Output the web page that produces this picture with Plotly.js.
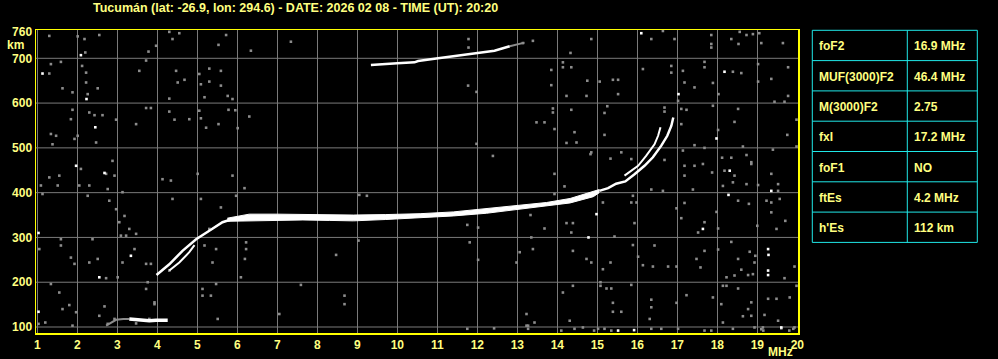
<!DOCTYPE html>
<html>
<head>
<meta charset="utf-8">
<script src="https://cdn.plot.ly/plotly-3.0.1.min.js"></script>
<style>
html,body{margin:0;padding:0;background:#000;}
#chart{width:998px;height:359px;}
</style>
</head>
<body>
<div id="chart"></div>
<script>
// ---------------- data ----------------
const titleText = "Tucumán (lat: -26.9, lon: 294.6) - DATE: 2026 02 08 - TIME (UT): 20:20";
const freqTicks = [1,2,3,4,5,6,7,8,9,10,11,12,13,14,15,16,17,18,19,20];
const heightTicks = [100,200,300,400,500,600,700,760];
const heightGrid = [100,200,300,400,500,600,700];

// F-region O trace: rising lower part
const riseFreq = [3.98, 4.30, 4.63, 4.97, 5.30, 5.63, 5.88, 6.13];
const riseH    = [216, 240, 270, 296, 315, 334, 341, 345];
// parallel X-like branch of the rising part
const rise2Freq = [4.30, 4.55, 4.80, 4.93];
const rise2H    = [226, 244, 267, 283];
// thick plateau band
const bandFreq   = [5.75, 6.30, 7.00, 7.64, 8.30, 8.90, 9.70, 10.57, 11.40, 12.23, 12.90, 13.73, 14.32, 14.90, 15.05];
const bandTop    = [343, 352, 352, 351, 351, 350, 351, 353, 357, 365, 370, 378, 387, 402, 407];
const bandBottom = [336, 337, 338, 339, 338, 337, 340, 344, 348, 354, 361, 370, 377, 391, 400];
// cusp near foF2 / fxI
const cuspFreq = [15.05, 15.27, 15.47, 15.70, 15.93, 16.18, 16.39, 16.60, 16.75, 16.85, 16.90];
const cuspH    = [404, 410, 420, 425, 441, 460, 479, 505, 527, 549, 568];
const cusp2Freq = [15.68, 16.02, 16.22, 16.43, 16.52, 16.58];
const cusp2H    = [438, 460, 482, 508, 527, 546];
// Es trace
const esFreq = [3.30, 3.47, 3.60, 3.80, 3.97, 4.12, 4.26];
const esH    = [118, 117, 115, 114, 115, 115, 115];
const esGrayFreq = [2.72, 2.85, 2.97, 3.15, 3.30];
const esGrayH    = [103, 110, 116, 118, 118];
// second-hop F trace
const hopFreq = [9.34, 9.70, 10.00, 10.43, 10.52, 11.02, 11.60, 12.02, 12.43, 12.81];
const hopH    = [685, 688, 689, 691, 694, 700, 707, 712, 717, 727];
const hopGrayFreq = [12.81, 13.00, 13.18];
const hopGrayH    = [727, 731, 735];

// scattered gray echoes (noise)
const noiseFreq = [1.30,2.01,2.18,2.55,2.20,4.38,4.30,4.55,5.53,5.72,6.34,7.34,3.78,3.97,1.34,1.59,1.30,2.12,2.22,2.22,2.26,1.88,1.63,2.51,3.55,3.72,4.47,4.51,4.68,5.30,5.59,5.05,5.09,5.30,5.59,4.30,5.18,5.76,5.88,1.88,2.30,2.43,2.63,1.84,2.97,3.47,3.72,3.84,4.43,4.30,4.80,5.05,5.09,5.78,5.95,6.30,5.22,5.53,6.01,1.34,1.38,1.47,1.93,2.01,2.47,2.88,2.09,2.72,2.93,2.05,1.51,1.09,1.13,1.30,1.55,2.30,2.76,3.13,2.26,2.80,2.97,3.18,3.30,3.05,3.22,3.09,3.47,3.43,3.13,3.72,3.84,3.76,3.93,3.72,5.13,5.47,4.30,4.34,4.13,4.38,5.01,5.09,5.59,5.30,5.88,6.18,5.97,6.22,6.22,6.19,5.38,5.47,5.18,6.09,7.59,7.05,8.68,8.68,8.47,9.05,9.24,9.03,1.05,1.59,1.59,1.84,1.93,2.38,2.51,2.30,2.72,3.01,1.34,1.55,1.80,1.63,1.97,2.68,2.76,2.55,2.93,3.47,3.80,3.93,5.13,5.34,5.51,1.03,1.20,1.88,
16.64,17.85,18.56,18.73,18.89,18.35,18.53,19.10,19.64,17.85,17.85,11.78,11.78,13.39,13.14,14.33,14.14,14.14,13.85,14.35,15.06,15.39,15.52,15.52,14.75,11.77,11.98,13.85,14.73,14.23,16.14,16.85,16.85,17.14,17.68,17.68,18.39,18.60,19.02,19.77,19.02,19.35,17.89,17.18,17.43,18.03,19.43,19.77,19.68,17.02,17.10,17.23,16.68,16.68,17.89,18.52,13.89,13.89,14.35,15.25,15.18,19.98,13.48,13.68,17.10,18.02,18.43,19.75,15.18,14.48,14.23,14.43,13.93,11.98,12.39,14.83,14.85,15.33,15.60,15.85,16.68,17.14,17.43,17.68,18.12,18.35,18.73,18.85,19.39,19.98,18.64,17.18,17.43,17.64,17.87,17.18,18.18,18.43,18.85,19.35,19.52,19.52,18.14,18.39,18.73,19.02,19.35,19.35,19.56,18.52,18.79,19.23,13.93,13.93,14.18,15.14,15.89,15.85,15.98,15.93,16.35,16.64,17.39,17.18,16.98,17.10,17.98,17.68,17.52,18.02,19.00,19.70,19.48,14.39,14.35,14.23,13.68,13.33,13.35,12.02,11.75,11.81,13.06,13.39,12.02,12.98,14.39,14.73,14.85,15.33,15.14,15.08,15.23,15.35,15.43,15.89,16.43,16.02,16.39,16.14,16.77,16.98,17.48,17.58,17.68,18.02,18.35,18.52,18.81,18.95,18.93,18.89,18.77,18.60,18.43,18.23,19.68,19.93,18.14,18.23,18.52,18.85,18.77,18.64,18.85,19.27,19.48,19.81,19.98,17.89,18.10,17.23,19.18,19.52,19.93,19.14,18.93,18.39,18.14,17.85,17.68,17.02,16.60,16.35,15.35,15.18,15.02,14.92,14.64,14.43,14.10,13.27,13.23,13.43,12.42,11.75,13.27,14.14,14.39,15.85,15.08,15.39,15.39,16.31,16.35,16.98,16.35,14.31,13.23,15.60,16.35,16.93,14.85,19.05,19.10,19.15,19.60,19.80,19.90];
const noiseH = [750,749,743,752,713,743,759,756,730,752,717,737,715,728,687,692,666,683,668,646,620,624,633,633,672,695,672,646,652,677,672,665,642,648,639,610,613,616,609,585,579,573,573,564,563,553,589,589,563,581,564,583,566,585,584,570,545,553,544,531,508,527,520,527,512,471,453,442,438,416,416,416,397,434,438,416,408,401,393,382,363,348,319,334,304,304,308,274,244,241,241,200,155,185,185,196,226,427,430,386,442,386,367,319,438,410,393,289,274,252,244,274,282,211,194,129,170,151,261,395,393,293,274,296,282,255,241,296,252,244,209,211,196,177,149,140,133,146,107,125,118,108,118,151,170,170,118,107,110,103,
761,752,759,752,754,743,732,734,734,724,732,743,724,739,734,712,691,680,674,680,648,652,652,620,650,639,625,640,616,616,676,683,668,672,692,680,670,667,687,680,648,654,645,646,635,620,603,616,603,605,587,585,590,581,594,587,588,579,585,593,578,563,557,557,553,540,558,529,529,512,511,535,542,509,482,486,490,476,490,475,473,494,506,500,478,478,484,468,496,503,503,460,460,464,445,438,449,438,464,442,419,404,415,423,419,417,378,356,386,382,375,382,442,397,414,378,393,378,378,332,407,404,407,377,365,343,357,334,311,320,326,337,319,332,311,332,320,350,300,322,328,289,267,274,250,244,270,252,244,244,229,200,186,186,302,283,282,257,235,238,235,235,252,233,270,273,290,252,268,259,244,218,216,228,215,211,209,235,192,192,186,155,140,124,125,163,163,166,192,166,151,171,127,114,99,99,99,96,110,92,92,96,96,96,92,96,96,92,99,96,92,96,103,110,97,96,103,177,192,194,192,154,134,118,161,154,144,114,129,134,743,743,743,756,95,92,97,92,96,99];
// scattered bright echoes
const brightFreq = [2.09,1.13,2.23,2.45,1.97,2.68,3.34,1.03,1.03,2.55,16.10,18.18,17.03,17.98,18.31,19.35,18.28,14.98,17.64,14.78,19.27,19.28,19.27,19.27,19.60,15.92,15.52];
const brightH    = [707,666,609,546,460,444,259,310,134,211,756,670,620,521,449,404,395,352,319,300,274,261,226,216,99,93,92];

// ionospheric parameters table
const paramNames  = ["foF2", "MUF(3000)F2", "M(3000)F2", "fxI", "foF1", "ftEs", "h'Es"];
const paramValues = ["16.9 MHz", "46.4 MHz", "2.75", "17.2 MHz", "NO", "4.2 MHz", "112 km"];

// ---------------- styling / layout ----------------
const W = 998, H = 359;
const M = {l: 36, r: 200, t: 30, b: 26};
const PW = W - M.l - M.r, PH = H - M.t - M.b;
const px2x = px => (px - M.l) / PW;          // pixel -> paper x
const py2y = py => 1 - (py - M.t) / PH;       // pixel -> paper y
const YEL = '#ffff80';
const FONT = 'Liberation Sans, Arial, sans-serif';
const WHITE = '#ffffff';
const GRAY = '#8c8c8c';

const traces = [];
traces.push({x: noiseFreq, y: noiseH, type: 'scatter', mode: 'markers',
  marker: {symbol: 'square', size: 2.6, color: GRAY, line: {width: 0}}, hoverinfo: 'skip'});
traces.push({x: esGrayFreq, y: esGrayH, mode: 'lines', line: {color: GRAY, width: 2}, hoverinfo: 'skip'});
traces.push({x: hopGrayFreq, y: hopGrayH, mode: 'lines', line: {color: GRAY, width: 2}, hoverinfo: 'skip'});
traces.push({x: brightFreq, y: brightH, type: 'scatter', mode: 'markers',
  marker: {symbol: 'square', size: 2.6, color: WHITE, line: {width: 0}}, hoverinfo: 'skip'});
traces.push({x: bandFreq, y: bandBottom, mode: 'lines', line: {color: WHITE, width: 1}, hoverinfo: 'skip'});
traces.push({x: bandFreq, y: bandTop, mode: 'lines', fill: 'tonexty', fillcolor: WHITE,
  line: {color: WHITE, width: 1}, hoverinfo: 'skip'});
traces.push({x: riseFreq, y: riseH, mode: 'lines', line: {color: WHITE, width: 2.5}, hoverinfo: 'skip'});
traces.push({x: rise2Freq, y: rise2H, mode: 'lines', line: {color: WHITE, width: 2}, hoverinfo: 'skip'});
traces.push({x: cuspFreq, y: cuspH, mode: 'lines', line: {color: WHITE, width: 2.5}, hoverinfo: 'skip'});
traces.push({x: cusp2Freq, y: cusp2H, mode: 'lines', line: {color: WHITE, width: 2}, hoverinfo: 'skip'});
traces.push({x: esFreq, y: esH, mode: 'lines', line: {color: WHITE, width: 3.5}, hoverinfo: 'skip'});
traces.push({x: hopFreq, y: hopH, mode: 'lines', line: {color: WHITE, width: 2.5}, hoverinfo: 'skip'});

const shapes = [];
// horizontal grid lines
heightGrid.forEach(v => shapes.push({type: 'line', xref: 'paper', yref: 'y', x0: 0, x1: 1, y0: v, y1: v,
  line: {color: '#7a7a7a', width: 1}, layer: 'below'}));
// table
const tL = 812.3, tR = 977.3, tMid = 907.3, tTop = 30.3, rowH = 30.3;
const CY = '#20e8e8';
shapes.push({type: 'rect', xref: 'paper', yref: 'paper', x0: px2x(tL), x1: px2x(tR),
  y0: py2y(tTop), y1: py2y(tTop + rowH * paramNames.length), line: {color: CY, width: 1}});
shapes.push({type: 'line', xref: 'paper', yref: 'paper', x0: px2x(tMid), x1: px2x(tMid),
  y0: py2y(tTop), y1: py2y(tTop + rowH * paramNames.length), line: {color: CY, width: 1}});
for (let i = 1; i < paramNames.length; i++) {
  shapes.push({type: 'line', xref: 'paper', yref: 'paper', x0: px2x(tL), x1: px2x(tR),
    y0: py2y(tTop + rowH * i), y1: py2y(tTop + rowH * i), line: {color: CY, width: 1}});
}

const annotations = [];
const tf = {family: FONT, size: 12, color: YEL, weight: 'bold'};
annotations.push({text: titleText, xref: 'paper', yref: 'paper', x: px2x(91), y: py2y(8),
  xanchor: 'left', yanchor: 'middle', showarrow: false, font: {family: FONT, size: 12.5, color: YEL, weight: 'bold'}});
annotations.push({text: 'km', xref: 'paper', yref: 'paper', x: px2x(15), y: py2y(45),
  xanchor: 'center', yanchor: 'middle', showarrow: false, font: tf});
annotations.push({text: 'MHz', xref: 'paper', yref: 'paper', x: px2x(780), y: py2y(352),
  xanchor: 'center', yanchor: 'middle', showarrow: false, font: tf});
paramNames.forEach((n, i) => {
  const cy = tTop + rowH * i + rowH / 2 + 1;
  annotations.push({text: n, xref: 'paper', yref: 'paper', x: px2x(817), y: py2y(cy),
    xanchor: 'left', yanchor: 'middle', showarrow: false, font: tf});
  annotations.push({text: paramValues[i], xref: 'paper', yref: 'paper', x: px2x(912), y: py2y(cy),
    xanchor: 'left', yanchor: 'middle', showarrow: false, font: tf});
});

const layout = {
  width: W, height: H, autosize: false,
  margin: M,
  paper_bgcolor: '#000', plot_bgcolor: '#000',
  showlegend: false,
  xaxis: {range: [0.9675, 20.0175], tickvals: freqTicks, ticktext: freqTicks.map(String),
    showgrid: true, gridcolor: '#7a7a7a', gridwidth: 1, zeroline: false,
    showline: true, mirror: true, linecolor: '#ffff00', linewidth: 1.5,
    ticks: '', tickfont: tf, fixedrange: true},
  yaxis: {range: [86.6, 763.2], tickvals: heightTicks, ticktext: heightTicks.map(String),
    showgrid: false, zeroline: false,
    showline: true, mirror: true, linecolor: '#ffff00', linewidth: 1.5,
    ticks: '', tickfont: tf, fixedrange: true},
  shapes: shapes,
  annotations: annotations
};

Plotly.newPlot('chart', traces, layout, {staticPlot: true, displayModeBar: false});
</script>
</body>
</html>
